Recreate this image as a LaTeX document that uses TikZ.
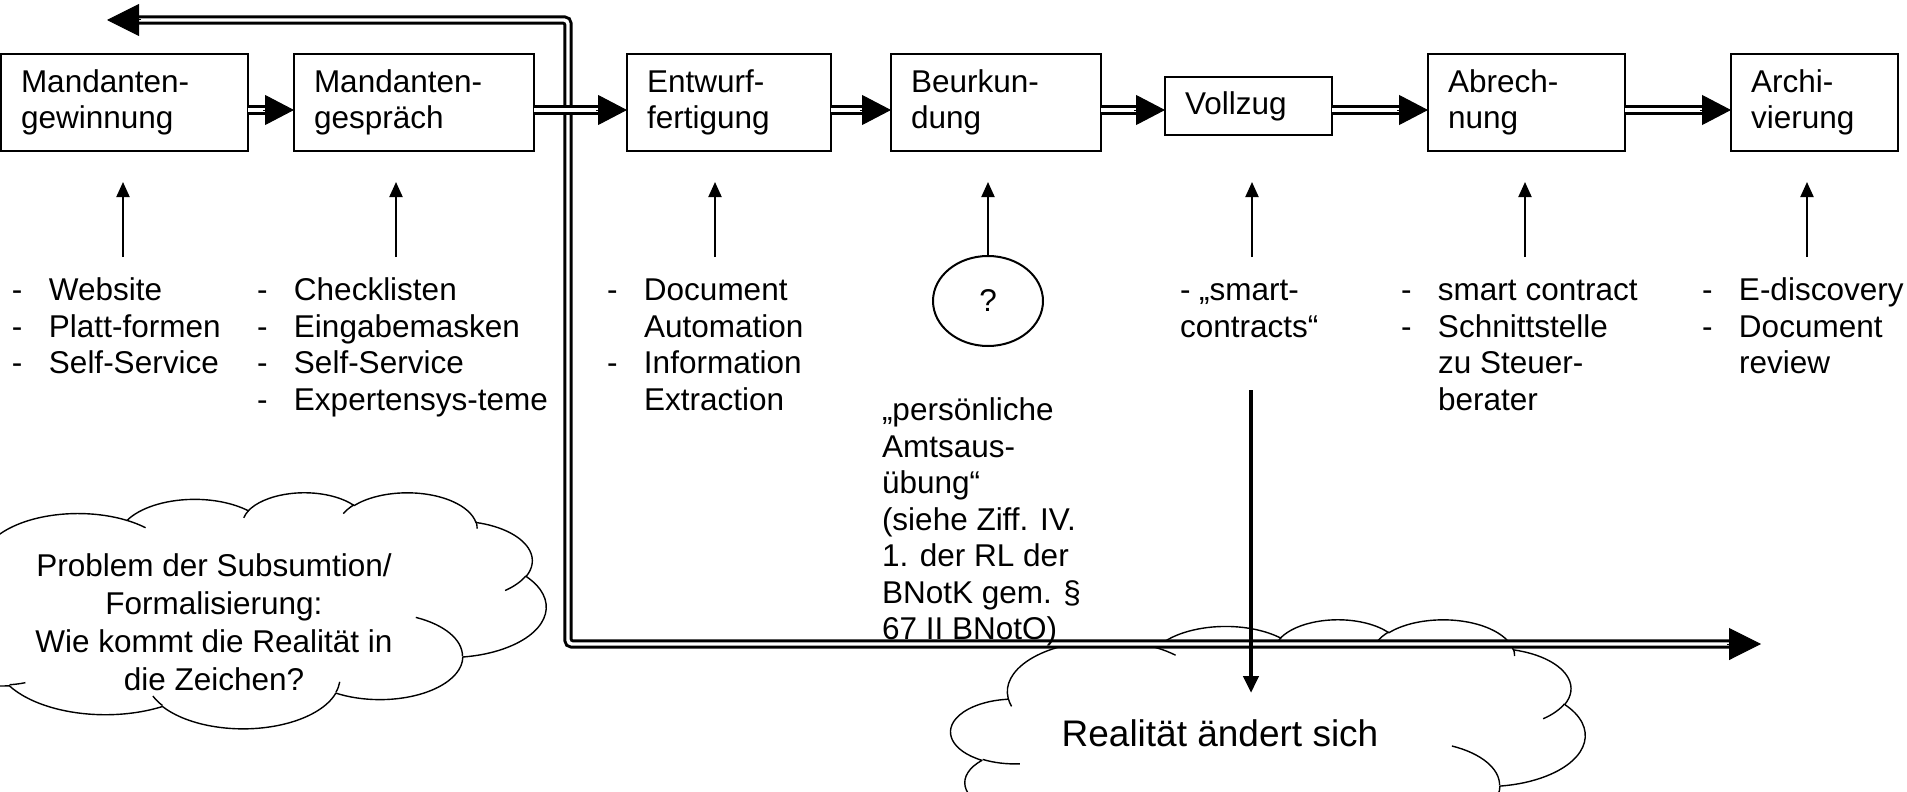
\documentclass[tikz,border=0pt]{standalone}
\usepackage{fontspec}
\setmainfont{Liberation Sans}
\usetikzlibrary{arrows.meta,shapes.geometric}
\newcommand\ftxt{\fontsize{31.5pt}{36.5pt}\selectfont}
\newcommand\fcloud{\fontsize{31.5pt}{38pt}\selectfont}
\newcommand\fbig{\fontsize{37pt}{44pt}\selectfont}
\newcommand\lidash[1]{\makebox[37pt][l]{-}#1}
\newcommand\licont[1]{\hspace*{37pt}#1}
\newcommand\oarc[4]{arc[start angle={atan2((#1)*sin(#3),(#2)*cos(#3))}, delta angle={Mod(atan2((#1)*sin((#3)+(#4)),(#2)*cos((#3)+(#4)))-atan2((#1)*sin(#3),(#2)*cos(#3)),360)}, x radius=#1, y radius=#2]}
\newcommand\cloudouter{(39.00,143.70)
 \oarc{67.53}{91.90}{-190.4875}{123.7805}
 \oarc{53.33}{72.67}{-144.1024}{89.9452}
 \oarc{43.65}{59.45}{-145.8079}{99.7230}
 \oarc{48.57}{65.95}{-130.9861}{117.2417}
 \oarc{53.33}{72.73}{-78.7089}{109.0269}
 \oarc{67.75}{92.20}{-46.2673}{130.2690}
 \oarc{57.85}{78.67}{0.6250}{114.0333}
 \oarc{67.52}{92.15}{22.4516}{115.1726}
 \oarc{77.20}{105.43}{66.2426}{75.7110}
 \oarc{43.60}{59.18}{-274.9421}{146.7356}
 \oarc{43.45}{59.45}{-246.8285}{152.5189} -- cycle}
\newcommand\cloudinner{(46.93,261.77) \oarc{43.45}{59.45}{86.7420}{26.4295}
 (69.28,348.99) \oarc{43.60}{59.18}{73.6105}{11.4475}
 (164.78,390.90) \oarc{67.52}{92.15}{137.6242}{14.0811}
 (288.27,347.51) \oarc{67.52}{92.15}{6.4533}{15.9984}
 (341.29,229.54) \oarc{57.85}{78.67}{-70.2924}{70.9174}
 (417.98,153.54) \oarc{53.33}{72.73}{30.3180}{27.7515}
 (383.24,54.26) \oarc{48.57}{65.95}{-13.7443}{14.8589}
 (290.78,39.52) \oarc{48.57}{65.95}{-149.1815}{18.1954}
 (221.41,47.20) \oarc{43.65}{59.45}{-163.4943}{17.6864}
 (140.00,51.92) \oarc{67.53}{91.90}{-66.7070}{12.3194}
 (41.27,157.89) \oarc{67.53}{91.90}{157.6544}{11.8582}}
\begin{document}
\begin{tikzpicture}[x=1pt,y=-1pt,
  every node/.style={inner sep=0pt, outer sep=0pt},
  boxn/.style={draw, line width=2pt, anchor=north west, inner xsep=20pt, inner ysep=0pt, align=left, font=\ftxt, minimum height=97pt},
  dshaft/.style={double=white, double distance=3.4pt, line width=3pt},
  dtip/.style={-{Triangle[length=29pt,width=30pt]}, line width=1pt},
  ltip/.style={-{Triangle[length=32pt,width=32pt]}, line width=1pt},
  uparr/.style={-{Triangle[length=15pt,width=13pt]}, line width=2pt},
  dnarr/.style={-{Triangle[length=17pt,width=15pt]}, line width=4.5pt},
  listn/.style={anchor=north west, align=left, font=\ftxt},
  cloudln/.style={line width=1.4pt, line join=round}]
\useasboundingbox (0,0) rectangle (1907,792);

% clouds
\begin{scope}[shift={(-74,492)}, x={(1.4352pt,0pt)}, y={(0pt,-0.5463pt)}]
  \filldraw[cloudln, fill=white] \cloudouter;
  \draw[cloudln] \cloudinner;
\end{scope}
\begin{scope}[shift={(951,619)}, x={(1.4676pt,0pt)}, y={(0pt,-0.5532pt)}]
  \filldraw[cloudln, fill=white] \cloudouter;
  \draw[cloudln] \cloudinner;
\end{scope}
\node[font=\fcloud, align=center] (c1) at (214,622) {Problem der Subsumtion/\\Formalisierung:\\Wie kommt die Realität in\\die Zeichen?};
\node[font=\fbig] (c2) at (1220,733) {Realität ändert sich};

% process boxes
\node[boxn, text width=207pt] (b1) at (1,54) {Mandanten-\\gewinnung};
\node[boxn, text width=200pt] (b2) at (294,54) {Mandanten-\\gespräch};
\node[boxn, text width=164pt] (b3) at (627,54) {Entwurf-\\fertigung};
\node[boxn, text width=170pt] (b4) at (891,54) {Beurkun-\\dung};
\node[boxn, text width=127pt, minimum height=58pt] (b5) at (1165,77) {Vollzug};
\node[boxn, text width=157pt] (b6) at (1428,54) {Abrech-\\nung};
\node[boxn, text width=127pt] (b7) at (1731,54) {Archi-\\vierung};

% big feedback loop
\coordinate (lp1) at (107,20);
\coordinate (lp2) at (568,20);
\coordinate (lp3) at (568,644);
\coordinate (lp4) at (1761,644);
\draw[dshaft, rounded corners=4pt] ([xshift=30pt]lp1) -- (lp2) -- (lp3) -- ([xshift=-29pt]lp4);
\draw[ltip] ([xshift=34pt]lp1) -- (lp1);
\draw[ltip] ([xshift=-34pt]lp4) -- (lp4);

% arrows between boxes
\coordinate (arow) at (0,110);
\foreach \a/\b in {b1/b2,b2/b3,b3/b4,b4/b5,b5/b6,b6/b7}{
  \draw[dshaft] (\a.east |- arow) -- ([xshift=-27pt]\b.west |- arow);
  \draw[dtip] ([xshift=-31pt]\b.west |- arow) -- (\b.west |- arow);
}

% lists
\node[listn] (l1) at (12,275) {\strut\lidash{Website}\\\lidash{Platt-formen}\\\lidash{Self-Service}};
\node[listn] (l2) at (257,275) {\strut\lidash{Checklisten}\\\lidash{Eingabemasken}\\\lidash{Self-Service}\\\lidash{Expertensys-teme}};
\node[listn] (l3) at (607,275) {\strut\lidash{Document}\\\licont{Automation}\\\lidash{Information}\\\licont{Extraction}};
\node[ellipse, draw, line width=2pt, minimum width=110pt, minimum height=90pt, font=\ftxt] (q) at (988,301) {?};
\node[listn] (l4) at (882,395) {\strut„persönliche\\Amtsaus-\\übung“\\(siehe Ziff. IV.\\1. der RL der\\BNotK gem. §\\67 II BNotO)};
\node[listn] (l5) at (1180,275) {\strut- „smart-\\contracts“};
\node[listn] (l6) at (1401,275) {\strut\lidash{smart contract}\\\lidash{Schnittstelle}\\\licont{zu Steuer-}\\\licont{berater}};
\node[listn] (l7) at (1702,275) {\strut\lidash{E-discovery}\\\lidash{Document}\\\licont{review}};

% up arrows
\foreach \i/\x in {1/123,2/396,3/715,6/1525,7/1807}{
  \coordinate (u\i) at (\x,257);
  \draw[uparr, shorten >=31pt] (u\i) -- (u\i |- b\i.south);
}
\coordinate (u5) at (1252,257);
\draw[uparr, shorten >=47pt] (u5) -- (u5 |- b5.south);
\draw[uparr, shorten >=31pt] (q.north) -- (q.north |- b4.south);

% down arrow into reality cloud
\coordinate (dtop) at (1251,390);
\coordinate (dbot) at (1251,693);
\draw[dnarr] (dtop) -- (dbot);
\end{tikzpicture}
\end{document}
